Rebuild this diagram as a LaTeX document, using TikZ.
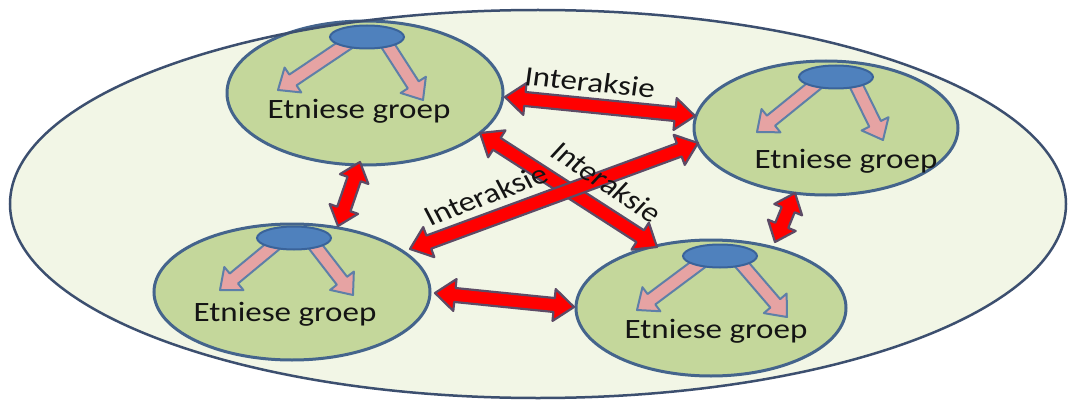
\documentclass[tikz,border=0pt]{standalone}
\usepackage{fontspec}
\setmainfont{Carlito}
\usetikzlibrary{calc,shapes.geometric}
\definecolor{bigfill}{HTML}{F2F6E6}
\definecolor{bigline}{HTML}{3C4F6F}
\definecolor{grpfill}{HTML}{C4D79B}
\definecolor{grpline}{HTML}{44648C}
\definecolor{blobfill}{HTML}{4F81BD}
\definecolor{blobline}{HTML}{3A639A}
\definecolor{pinkfill}{HTML}{E6A3A3}
\definecolor{pinkline}{HTML}{5E7FA8}
\definecolor{redfill}{HTML}{FF0000}
\definecolor{redline}{HTML}{5C4B66}
\newcommand\dblarrow[6]{%
  \coordinate (tmpP) at ($(#1)!#5!(#2)$);
  \coordinate (tmpQ) at ($(#2)!#5!(#1)$);
  \path[#6] (#1) -- ($(tmpP)!#4!90:(#2)$) -- ($(tmpP)!#3!90:(#2)$)
    -- ($(tmpQ)!#3!-90:(#1)$) -- ($(tmpQ)!#4!-90:(#1)$) -- (#2)
    -- ($(tmpQ)!#4!90:(#1)$) -- ($(tmpQ)!#3!90:(#1)$)
    -- ($(tmpP)!#3!-90:(#2)$) -- ($(tmpP)!#4!-90:(#2)$) -- cycle;}
\newcommand\sglarrow[6]{%
  \coordinate (tmpP) at ($(#2)!#5!(#1)$);
  \path[#6] ($(#1)!#3!90:(#2)$) -- ($(tmpP)!#3!-90:(#1)$)
    -- ($(tmpP)!#4!-90:(#1)$) -- (#2) -- ($(tmpP)!#4!90:(#1)$)
    -- ($(tmpP)!#3!90:(#1)$) -- ($(#1)!#3!-90:(#2)$) -- cycle;}
\begin{document}
\begin{tikzpicture}[x=1pt,y=-1pt,
  world/.style={ellipse,fill=bigfill,inner sep=0pt,outer sep=0pt},
  worldline/.style={ellipse,draw=bigline,line width=2.5pt,inner sep=0pt,outer sep=0pt},
  grp/.style={ellipse,fill=grpfill,draw=grpline,line width=3pt,inner sep=0pt},
  blob/.style={ellipse,fill=blobfill,draw=blobline,line width=2pt,inner sep=0pt,
    minimum width=74pt,minimum height=23pt},
  grptext/.style={font=\fontsize{28}{32}\selectfont,text=black!92,inner sep=0pt,xscale=1.18},
  pinkarrow/.style={fill=pinkfill,draw=pinkline,line width=2pt,line join=round},
  redarrow/.style={fill=redfill,draw=redline,line width=2.2pt,line join=round}]
\useasboundingbox (0,0) rectangle (1069,404);
\fill[white] (0,0) rectangle (1069,404);
% world
\node[world,minimum width=1056pt,minimum height=388pt] (w) at (538,204) {};
% groups
\node[grp,minimum width=276pt,minimum height=144pt] (g1) at (365,93) {};
\node[grp,minimum width=264pt,minimum height=134pt] (g2) at (826,128) {};
\node[grp,minimum width=276pt,minimum height=136pt] (g3) at (292,292) {};
\node[grp,minimum width=270pt,minimum height=136pt] (g4) at (711,308) {};
\node[worldline,minimum width=1056pt,minimum height=388pt] (wl) at (538,204) {};
% blob centres
\coordinate (b1c) at (367,37);
\coordinate (b2c) at (836,77);
\coordinate (b3c) at (294,238);
\coordinate (b4c) at (720,256);
% pink arrows
\foreach \g/\lx/\ly/\rx/\ry in {1/-89/53/56/63, 2/-79/55/47/63, 3/-74/52/59/57, 4/-83/54/67/61}{
  \coordinate (p\g ls) at ($(b\g c)+(-16,4)$);
  \coordinate (p\g lt) at ($(b\g c)+(\lx,\ly)$);
  \coordinate (p\g rs) at ($(b\g c)+(18,4)$);
  \coordinate (p\g rt) at ($(b\g c)+(\rx,\ry)$);
  \sglarrow{p\g ls}{p\g lt}{6.5pt}{15pt}{18pt}{pinkarrow}
  \sglarrow{p\g rs}{p\g rt}{6.5pt}{15pt}{18pt}{pinkarrow}
}
\node[blob] (b1) at (b1c) {};
\node[blob] (b2) at (b2c) {};
\node[blob] (b3) at (b3c) {};
\node[blob] (b4) at (b4c) {};
% group texts
\node[grptext] (t1) at (359,111) {Etniese groep};
\node[grptext] (t2) at (846,161) {Etniese groep};
\node[grptext] (t3) at (285,314) {Etniese groep};
\node[grptext] (t4) at (716,331) {Etniese groep};
% red arrow end points
\coordinate (r1a) at (505,97);  \coordinate (r1b) at (695,116);
\coordinate (r2a) at (480,133); \coordinate (r2b) at (657,247);
\coordinate (r3a) at (410,249); \coordinate (r3b) at (698,143);
\coordinate (r4a) at (360,162); \coordinate (r4b) at (338,226);
\coordinate (r5a) at (795,193); \coordinate (r5b) at (775,242);
\coordinate (r6a) at (435,293); \coordinate (r6b) at (574,307);
\dblarrow{r1a}{r1b}{7pt}{16pt}{20pt}{redarrow}
\dblarrow{r2a}{r2b}{7pt}{16pt}{20pt}{redarrow}
\dblarrow{r3a}{r3b}{7pt}{16pt}{20pt}{redarrow}
\dblarrow{r4a}{r4b}{7pt}{15pt}{18pt}{redarrow}
\dblarrow{r5a}{r5b}{7pt}{15pt}{18pt}{redarrow}
\dblarrow{r6a}{r6b}{7pt}{16pt}{20pt}{redarrow}
% labels
\node[grptext,rotate=-6.7] (i1) at (590,82) {Interaksie};
\node[grptext,rotate=-38] (i2) at (607,182) {Interaksie};
\node[grptext,rotate=24] (i3) at (486,195) {Interaksie};
\end{tikzpicture}
\end{document}
